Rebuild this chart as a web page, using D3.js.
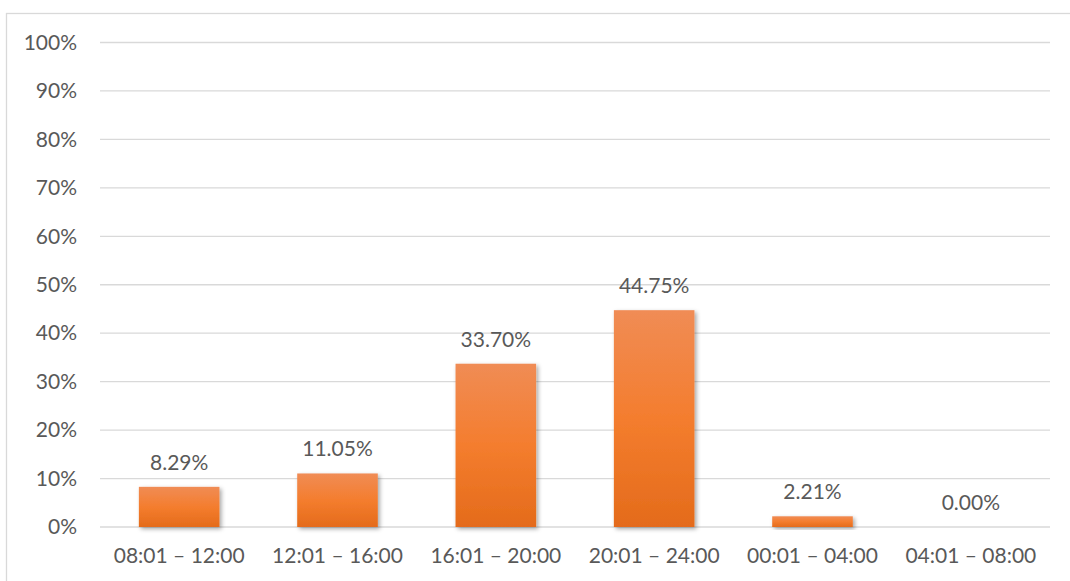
<!DOCTYPE html>
<html>
<head>
<meta charset="utf-8">
<script src="https://cdn.jsdelivr.net/npm/d3@7"></script>
<style>
  html, body { margin: 0; padding: 0; background: #fff; }
  svg { display: block; }
  text { font-family: Lato, "Open Sans", sans-serif; fill: #595959; }
</style>
</head>
<body>
<svg id="chart" width="1070" height="581"></svg>
<script>
// Share of activity by time-of-day window (percent)
const categories = ["08:01 – 12:00", "12:01 – 16:00", "16:01 – 20:00", "20:01 – 24:00", "00:01 – 04:00", "04:01 – 08:00"];
const values = [8.29, 11.05, 33.70, 44.75, 2.21, 0.00];
const valueLabels = ["8.29%", "11.05%", "33.70%", "44.75%", "2.21%", "0.00%"];
const yTicks = [0, 10, 20, 30, 40, 50, 60, 70, 80, 90, 100];

const svg = d3.select("#chart");
const W = 1070, H = 581;
const plot = { left: 100, right: 1050, top: 42.5, bottom: 527 };
const fontSize = 21;

// Chart area frame
svg.append("rect")
  .attr("x", 6.5).attr("y", 13.5)
  .attr("width", W + 20).attr("height", H + 20)
  .attr("fill", "#fff")
  .attr("stroke", "#d9d9d9").attr("stroke-width", 1.3);

const defs = svg.append("defs");
const grad = defs.append("linearGradient")
  .attr("id", "barFill").attr("x1", 0).attr("y1", 0).attr("x2", 0).attr("y2", 1);
grad.append("stop").attr("offset", "0%").attr("stop-color", "#f08c55");
grad.append("stop").attr("offset", "50%").attr("stop-color", "#f47d2e");
grad.append("stop").attr("offset", "100%").attr("stop-color", "#e46b1b");

const shadow = defs.append("filter").attr("id", "barShadow")
  .attr("x", "-20%").attr("y", "-20%").attr("width", "140%").attr("height", "140%");
shadow.append("feDropShadow")
  .attr("dx", 2).attr("dy", 2).attr("stdDeviation", 2)
  .attr("flood-color", "#000").attr("flood-opacity", 0.35);

const x = d3.scaleBand()
  .domain(categories)
  .range([plot.left, plot.right])
  .paddingInner(0.491)
  .paddingOuter(0.2455);

const y = d3.scaleLinear()
  .domain([0, 100])
  .range([plot.bottom, plot.top]);

// Horizontal gridlines
svg.append("g")
  .selectAll("line")
  .data(yTicks)
  .join("line")
  .attr("x1", plot.left).attr("x2", plot.right)
  .attr("y1", d => y(d)).attr("y2", d => y(d))
  .attr("stroke", "#d9d9d9").attr("stroke-width", 1.3);

// Y axis labels
const yAxis = d3.axisLeft(y)
  .tickValues(yTicks)
  .tickFormat(d => d + "%")
  .tickSize(0)
  .tickPadding(23);
const yG = svg.append("g")
  .attr("transform", `translate(${plot.left},0)`)
  .call(yAxis);
yG.select(".domain").remove();
yG.selectAll("text")
  .attr("font-size", fontSize)
  .attr("font-family", "Lato, 'Open Sans', sans-serif")
  .attr("fill", "#595959");

// X axis labels
const xAxis = d3.axisBottom(x).tickSize(0).tickPadding(21);
const xG = svg.append("g")
  .attr("transform", `translate(0,${plot.bottom})`)
  .call(xAxis);
xG.select(".domain").remove();
xG.selectAll("text")
  .attr("font-size", fontSize)
  .attr("font-family", "Lato, 'Open Sans', sans-serif")
  .attr("fill", "#595959");

// Bars
svg.append("g")
  .selectAll("rect")
  .data(values)
  .join("rect")
  .attr("x", (d, i) => x(categories[i]))
  .attr("width", x.bandwidth())
  .attr("y", d => y(d))
  .attr("height", d => y(0) - y(d))
  .attr("fill", "url(#barFill)")
  .attr("filter", d => d > 0 ? "url(#barShadow)" : null);

// Value labels
svg.append("g")
  .selectAll("text")
  .data(values)
  .join("text")
  .attr("x", (d, i) => x(categories[i]) + x.bandwidth() / 2)
  .attr("y", d => y(d) - 17)
  .attr("text-anchor", "middle")
  .attr("font-size", fontSize)
  .text((d, i) => valueLabels[i]);
</script>
</body>
</html>
